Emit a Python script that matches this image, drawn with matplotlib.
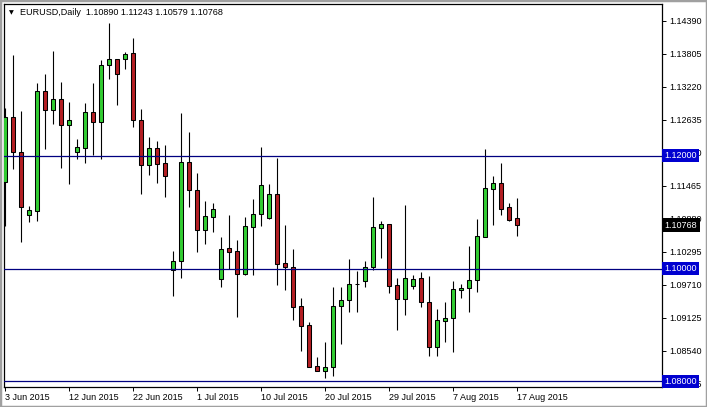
import matplotlib.pyplot as plt
from matplotlib.patches import Rectangle
import matplotlib.transforms as mtransforms

# EURUSD daily candles, 3 Jun 2015 .. 17 Aug 2015 (broker shows Sunday bars)
opens = [1.11539, 1.12681, 1.12071, 1.10943, 1.11025, 1.13142, 1.12805, 1.13000, 1.12550, 1.12071,
         1.12142, 1.12770, 1.12592, 1.13603, 1.13709, 1.13720, 1.13821, 1.12628, 1.11840, 1.12131,
         1.11871, 1.09973, 1.10128, 1.11883, 1.11387, 1.10688, 1.10913, 1.09809, 1.10358, 1.10310,
         1.09897, 1.10741, 1.10961, 1.10890, 1.11316, 1.10092, 1.10032, 1.09335, 1.08998, 1.08266,
         1.08188, 1.08245, 1.09335, 1.09436, 1.09725, 1.09784, 1.10021, 1.10723, 1.10784, 1.09702,
         1.09454, 1.09690, 1.09826, 1.09401, 1.08613, 1.09074, 1.09117, 1.09613, 1.09649, 1.09791,
         1.10564, 1.11404, 1.11521, 1.11090, 1.10890]
highs = [1.12840, 1.13785, 1.12793, 1.11108, 1.13284, 1.13449, 1.13856, 1.13312, 1.12947, 1.12291,
         1.12929, 1.13289, 1.13691, 1.14348, 1.13715, 1.13844, 1.14082, 1.12828, 1.12337, 1.12261,
         1.12190, 1.10310, 1.12752, 1.12415, 1.11688, 1.11197, 1.11161, 1.10553, 1.10949, 1.10505,
         1.10908, 1.11232, 1.12160, 1.11498, 1.11954, 1.10771, 1.10346, 1.09482, 1.09046, 1.08426,
         1.08697, 1.09677, 1.09667, 1.10177, 1.09956, 1.10138, 1.11268, 1.10848, 1.10790, 1.09826,
         1.11126, 1.09885, 1.09943, 1.09867, 1.09282, 1.09411, 1.09784, 1.09725, 1.10404, 1.10883,
         1.12119, 1.11645, 1.11876, 1.11167, 1.11243]
lows = [1.10754, 1.11764, 1.10475, 1.10830, 1.10848, 1.12119, 1.12562, 1.11787, 1.11493, 1.11936,
        1.11876, 1.12012, 1.11947, 1.13360, 1.12899, 1.13537, 1.12509, 1.11321, 1.11663, 1.11516,
        1.11273, 1.09518, 1.09837, 1.11096, 1.10298, 1.10440, 1.10642, 1.09667, 1.09986, 1.09145,
        1.09890, 1.09890, 1.10759, 1.10885, 1.09707, 1.09619, 1.09087, 1.08543, 1.08255, 1.08185,
        1.08059, 1.08094, 1.08670, 1.09220, 1.09234, 1.09667, 1.09965, 1.10191, 1.09571, 1.08910,
        1.09176, 1.09631, 1.09312, 1.08449, 1.08449, 1.08691, 1.08525, 1.09482, 1.09234, 1.09589,
        1.10553, 1.10771, 1.10954, 1.10848, 1.10579]
closes = [1.12681, 1.12071, 1.11085, 1.11032, 1.13142, 1.12805, 1.13000, 1.12550, 1.12628, 1.12154,
          1.12770, 1.12592, 1.13603, 1.13709, 1.13454, 1.13803, 1.12628, 1.11840, 1.12131, 1.11858,
          1.11645, 1.10128, 1.11883, 1.11387, 1.10688, 1.10926, 1.11050, 1.10340, 1.10298, 1.09897,
          1.10748, 1.10961, 1.11475, 1.11316, 1.10085, 1.10032, 1.09323, 1.08986, 1.08259, 1.08188,
          1.08245, 1.09335, 1.09441, 1.09720, 1.09725, 1.10021, 1.10730, 1.10784, 1.09695, 1.09454,
          1.09826, 1.09809, 1.09401, 1.08613, 1.09087, 1.09117, 1.09631, 1.09654, 1.09796, 1.10576,
          1.11422, 1.11521, 1.11050, 1.10865, 1.10768]

date_labels = ["3 Jun 2015", "12 Jun 2015", "22 Jun 2015", "1 Jul 2015", "10 Jul 2015",
               "20 Jul 2015", "29 Jul 2015", "7 Aug 2015", "17 Aug 2015"]
price_ticks = [1.14390, 1.13805, 1.13220, 1.12635, 1.12050, 1.11465, 1.10880,
               1.10295, 1.09710, 1.09125, 1.08540, 1.07955]
levels = [1.12000, 1.10000, 1.08000]
last_price = 1.10768

bull = '#32cd32'
bear = '#b41e23'
navy = '#000080'
font = 'Liberation Sans'
fs = 6.5

fig = plt.figure(figsize=(7.07, 4.07), dpi=100)
fig.patch.set_facecolor('white')
ax = fig.add_axes([4/707, 20/407, 658/707, 383/407])

n = len(opens)
xs = list(range(n))
ax.vlines(xs, lows, highs, color='black', linewidth=0.8, zorder=2)
for i in xs:
    o, c = opens[i], closes[i]
    col = bull if c >= o else bear
    ax.bar(i, abs(c - o), bottom=min(o, c), width=0.56, color=col,
           edgecolor='black', linewidth=0.75, zorder=3)

for lv in levels:
    ax.axhline(lv, color=navy, linewidth=0.9, zorder=4)

ax.set_xlim(-0.125, 82.125)
ax.set_ylim(1.07899, 1.14690)

ax.yaxis.tick_right()
ax.set_yticks(price_ticks)
ax.set_yticklabels(['%.5f' % t for t in price_ticks])
ax.tick_params(axis='y', length=3, width=0.7, pad=2, labelsize=fs)
ax.set_xticks(range(0, 8 * len(date_labels), 8))
ax.set_xticklabels(date_labels, ha='left')
ax.tick_params(axis='x', length=3, width=0.7, pad=1.5, labelsize=fs)
for lab in ax.get_xticklabels() + ax.get_yticklabels():
    lab.set_fontfamily(font)
for sp in ax.spines.values():
    sp.set_linewidth(0.9)

# price boxes on the right scale
trans = mtransforms.blended_transform_factory(ax.transAxes, ax.transData)
for lv in levels:
    ax.text(1.004, lv, '%.5f' % lv, transform=trans, ha='left', va='center',
            fontsize=fs, family=font, color='white', clip_on=False, zorder=10,
            bbox=dict(boxstyle='square,pad=0.25', facecolor='#0000d0', edgecolor='none'))
ax.text(1.004, last_price, '%.5f' % last_price, transform=trans, ha='left', va='center',
        fontsize=fs, family=font, color='white', clip_on=False, zorder=10,
        bbox=dict(boxstyle='square,pad=0.25', facecolor='black', edgecolor='none'))

# header
fig.text(8.5/707, 1 - 12.7/407, '\u25bc', fontsize=4.5, family='DejaVu Sans',
         va='center', ha='left')
fig.text(20.5/707, 1 - 12.7/407,
         'EURUSD,Daily  %.5f %.5f %.5f %.5f' % (opens[-1], highs[-1], lows[-1], closes[-1]),
         fontsize=fs, family=font, va='center', ha='left')

# window frame
fig.patches.append(Rectangle((0, 0), 1, 1, transform=fig.transFigure, fill=False,
                             edgecolor='#a0a0a0', linewidth=2.5))

fig.savefig('out.png', dpi=100)
